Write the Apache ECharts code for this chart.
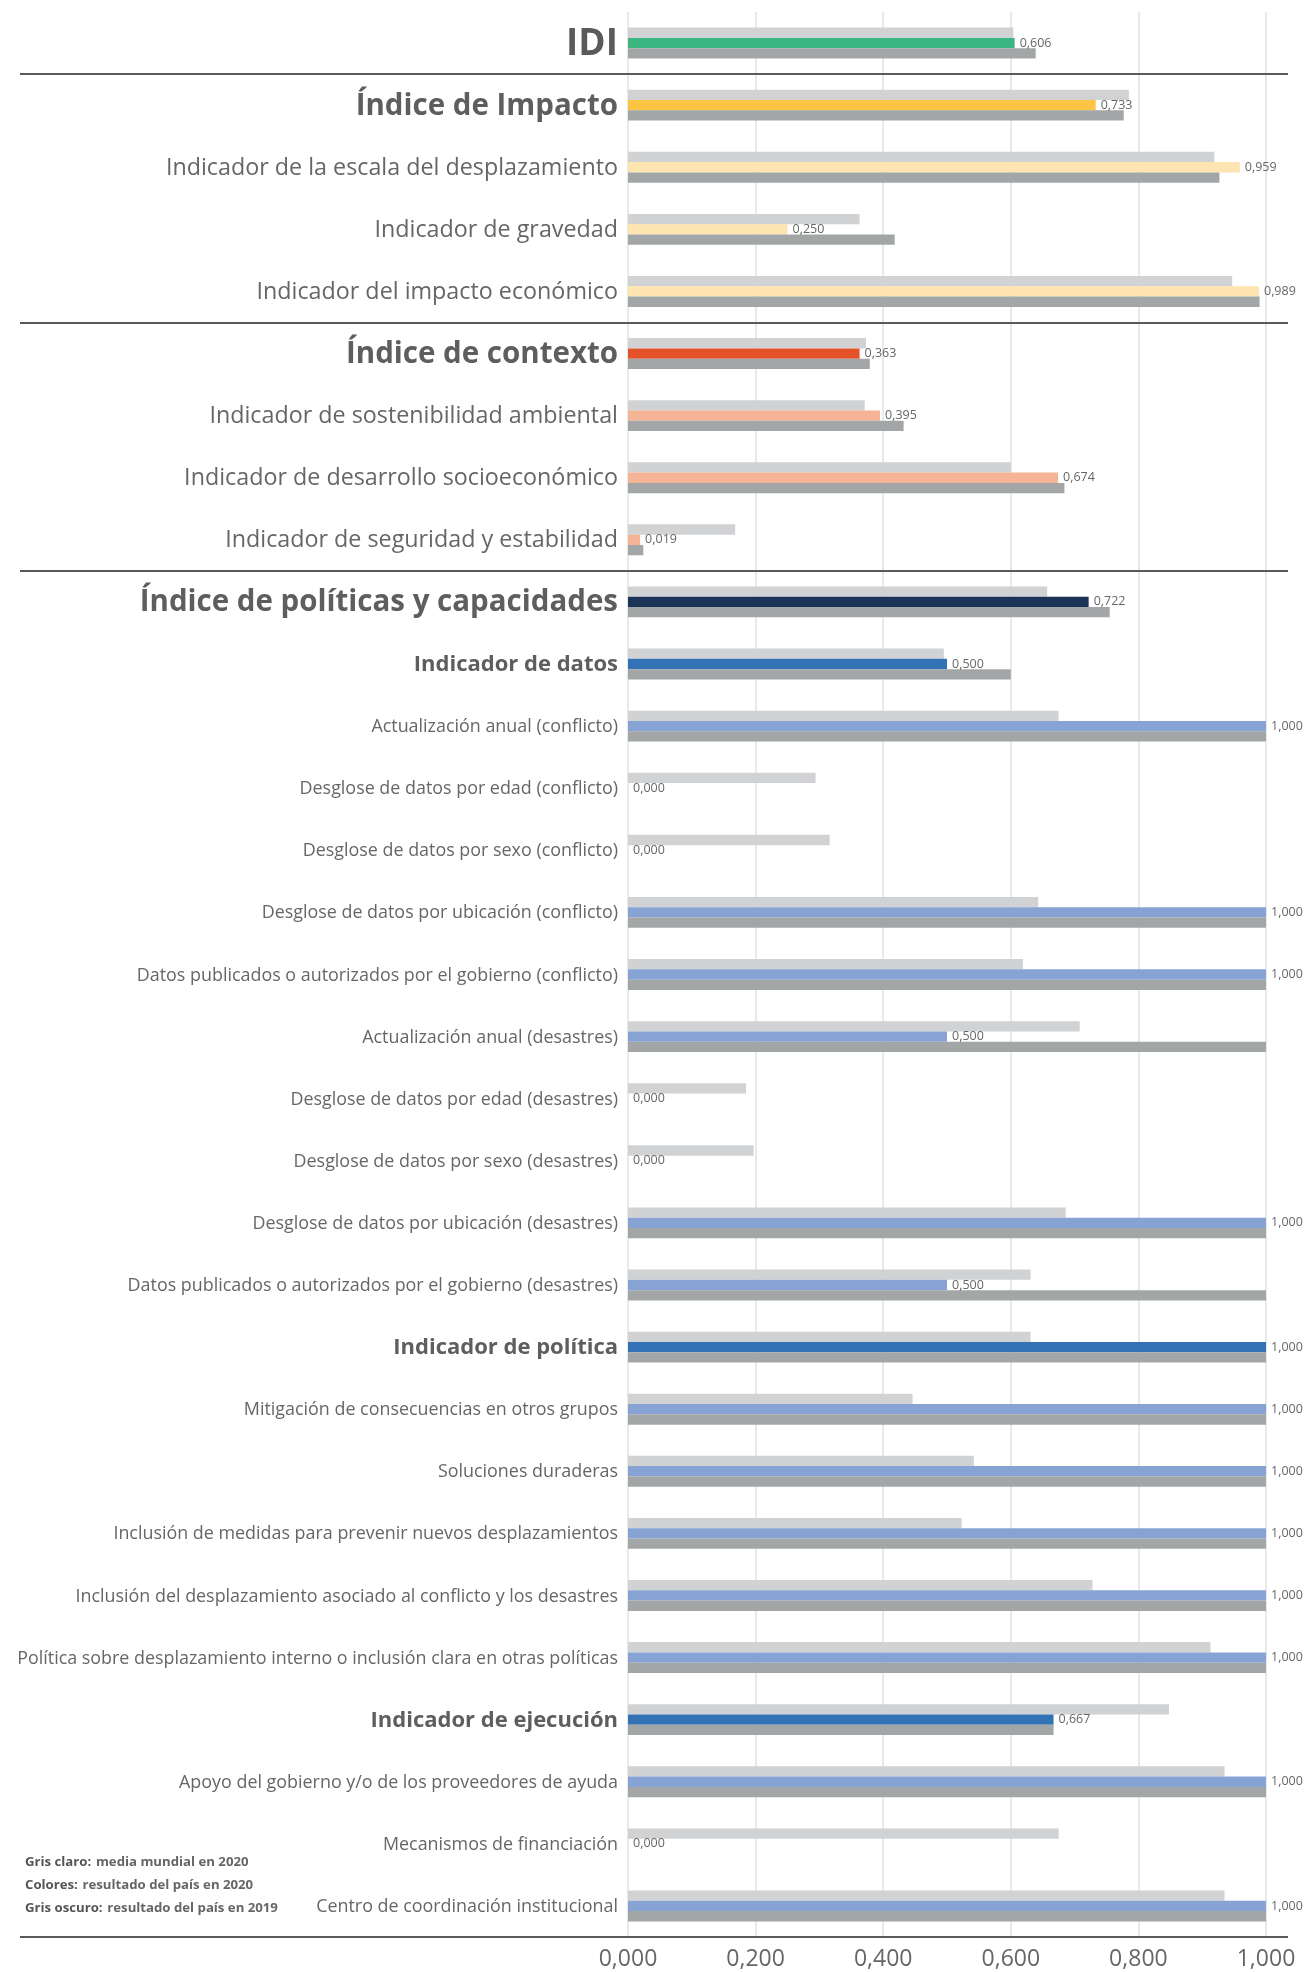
<!DOCTYPE html>
<html>
<head>
<meta charset="utf-8">
<script src="https://cdn.jsdelivr.net/npm/echarts@6/dist/echarts.min.js"></script>
<style>
  html, body { margin: 0; padding: 0; background: #fff; }
  #chart { width: 1307px; height: 1972px; }
</style>
</head>
<body>
<div id="chart"></div>
<script>
// categories, top to bottom
var categories = [
  "IDI",
  "Índice de Impacto",
  "Indicador de la escala del desplazamiento",
  "Indicador de gravedad",
  "Indicador del impacto económico",
  "Índice de contexto",
  "Indicador de sostenibilidad ambiental",
  "Indicador de desarrollo socioeconómico",
  "Indicador de seguridad y estabilidad",
  "Índice de políticas y capacidades",
  "Indicador de datos",
  "Actualización anual (conflicto)",
  "Desglose de datos por edad (conflicto)",
  "Desglose de datos por sexo (conflicto)",
  "Desglose de datos por ubicación (conflicto)",
  "Datos publicados o autorizados por el gobierno (conflicto)",
  "Actualización anual (desastres)",
  "Desglose de datos por edad (desastres)",
  "Desglose de datos por sexo (desastres)",
  "Desglose de datos por ubicación (desastres)",
  "Datos publicados o autorizados por el gobierno (desastres)",
  "Indicador de política",
  "Mitigación de consecuencias en otros grupos",
  "Soluciones duraderas",
  "Inclusión de medidas para prevenir nuevos desplazamientos",
  "Inclusión del desplazamiento asociado al conflicto y los desastres",
  "Política sobre desplazamiento interno o inclusión clara en otras políticas",
  "Indicador de ejecución",
  "Apoyo del gobierno y/o de los proveedores de ayuda",
  "Mecanismos de financiación",
  "Centro de coordinación institucional"
];
// label style per category
var levels = ["idi", "index", "ind", "ind", "ind", "index", "ind", "ind", "ind", "index", "indb",
  "sub", "sub", "sub", "sub", "sub", "sub", "sub", "sub", "sub", "sub", "indb",
  "sub", "sub", "sub", "sub", "sub", "indb", "sub", "sub", "sub"];
// media mundial 2020 (gris claro)
var world2020 = [0.604, 0.785, 0.919, 0.363, 0.947, 0.373, 0.371, 0.600, 0.168, 0.657, 0.495,
  0.675, 0.294, 0.316, 0.643, 0.619, 0.708, 0.185, 0.197, 0.686, 0.631, 0.631,
  0.446, 0.542, 0.523, 0.728, 0.913, 0.848, 0.935, 0.675, 0.935];
// resultado del país 2020 (colores)
var country2020 = [0.606, 0.733, 0.959, 0.250, 0.989, 0.363, 0.395, 0.674, 0.019, 0.722, 0.500,
  1, 0, 0, 1, 1, 0.5, 0, 0, 1, 0.5, 1,
  1, 1, 1, 1, 1, 0.667, 1, 0, 1];
// resultado del país 2019 (gris oscuro)
var country2019 = [0.639, 0.777, 0.927, 0.418, 0.990, 0.379, 0.432, 0.684, 0.024, 0.755, 0.600,
  1, 0, 0, 1, 1, 1, 0, 0, 1, 1, 1,
  1, 1, 1, 1, 1, 0.667, 1, 0, 1];
var barColors = ["#3cb680", "#fcc443", "#fee4b1", "#fee4b1", "#fee4b1", "#e45229", "#f4b495", "#f4b495", "#f4b495",
  "#1b3357", "#3372b5", "#87a3d4", "#87a3d4", "#87a3d4", "#87a3d4", "#87a3d4", "#87a3d4", "#87a3d4", "#87a3d4",
  "#87a3d4", "#87a3d4", "#3372b5", "#87a3d4", "#87a3d4", "#87a3d4", "#87a3d4", "#87a3d4", "#3372b5",
  "#87a3d4", "#87a3d4", "#87a3d4"];
var xTicks = [0, 0.2, 0.4, 0.6, 0.8, 1.0];
// section separators (category boundaries)
var sectionBreaks = [1, 5, 9, 31];

var fmt = function (v) { return v.toFixed(3).replace(".", ","); };
var FONT = "Open Sans";

var myChart = echarts.init(document.getElementById("chart"));
var option = {
  animation: false,
  textStyle: { fontFamily: FONT },
  title: {
    left: 20,
    top: 1846,
    text: "{b|Gris claro:} {r|media mundial en 2020}\n{b|Colores:} {r|resultado del país en 2020}\n{b|Gris oscuro:} {r|resultado del país en 2019}",
    textStyle: {
      rich: {
        b: { fontFamily: FONT, fontSize: 13.2, fontWeight: "bold", color: "#555", lineHeight: 23 },
        r: { fontFamily: FONT, fontSize: 13.2, color: "#666", lineHeight: 23 }
      }
    }
  },
  grid: [
    { left: 628, right: 41, top: 12, bottom: 35 },
    { left: 20, right: 19, top: 12, bottom: 35 }
  ],
  xAxis: [
    {
      type: "value",
      gridIndex: 0,
      min: 0,
      max: 1,
      interval: 0.2,
      axisLine: { show: false },
      axisTick: { show: false },
      splitLine: { show: true, lineStyle: { color: "#e2e2e2", width: 1.5 } },
      axisLabel: {
        margin: 11,
        fontSize: 23,
        color: "#666",
        fontFamily: FONT,
        formatter: function (v) {
          var t = xTicks.filter(function (x) { return Math.abs(x - v) < 1e-6; });
          return t.length ? fmt(t[0]) : "";
        }
      }
    },
    { type: "value", gridIndex: 1, min: 0, max: 1, show: false }
  ],
  yAxis: [
    {
      type: "category",
      gridIndex: 0,
      data: categories,
      inverse: true,
      axisLine: { show: false },
      axisTick: { show: false },
      splitLine: { show: false },
      axisLabel: {
        margin: 10,
        interval: 0,
        formatter: function (value, idx) {
          return "{" + levels[idx] + "|" + value + "}";
        },
        rich: {
          idi: { fontFamily: FONT, fontSize: 37, fontWeight: "bold", color: "#5a5a5a", padding: [2, 0, 0, 0] },
          index: { fontFamily: FONT, fontSize: 29.5, fontWeight: "bold", color: "#5e5e5e", padding: [2, 0, 0, 0] },
          ind: { fontFamily: FONT, fontSize: 23.3, color: "#666", padding: [2, 0, 0, 0] },
          indb: { fontFamily: FONT, fontSize: 22, fontWeight: "bold", color: "#5e5e5e", padding: [2, 0, 0, 0] },
          sub: { fontFamily: FONT, fontSize: 17.9, color: "#666", padding: [2, 0, 0, 0] }
        }
      }
    },
    { type: "value", gridIndex: 1, min: 0, max: 31, inverse: true, show: false }
  ],
  series: [
    {
      name: "Gris claro",
      type: "bar",
      xAxisIndex: 0,
      yAxisIndex: 0,
      data: world2020,
      barWidth: 10.3,
      barGap: "0%",
      itemStyle: { color: "#d1d2d4" },
      silent: true
    },
    {
      name: "Colores",
      type: "bar",
      xAxisIndex: 0,
      yAxisIndex: 0,
      data: country2020,
      barWidth: 10.3,
      barGap: "0%",
      itemStyle: {
        color: function (p) { return barColors[p.dataIndex]; }
      },
      label: {
        show: true,
        position: "right",
        distance: 5,
        fontFamily: FONT,
        fontSize: 12.5,
        color: "#666",
        formatter: function (p) { return fmt(p.value); }
      },
      silent: true
    },
    {
      name: "Gris oscuro",
      type: "bar",
      xAxisIndex: 0,
      yAxisIndex: 0,
      data: country2019,
      barWidth: 10.3,
      barGap: "0%",
      itemStyle: { color: "#a3a6a7" },
      silent: true
    },
    {
      name: "separadores",
      type: "line",
      xAxisIndex: 1,
      yAxisIndex: 1,
      data: [],
      markLine: {
        silent: true,
        symbol: "none",
        label: { show: false },
        lineStyle: { color: "#5a5a5a", width: 2, type: "solid" },
        data: sectionBreaks.map(function (v) { return { yAxis: v }; })
      }
    }
  ]
};
myChart.setOption(option);
window.addEventListener("resize", function () { myChart.resize(); });
</script>
</body>
</html>
